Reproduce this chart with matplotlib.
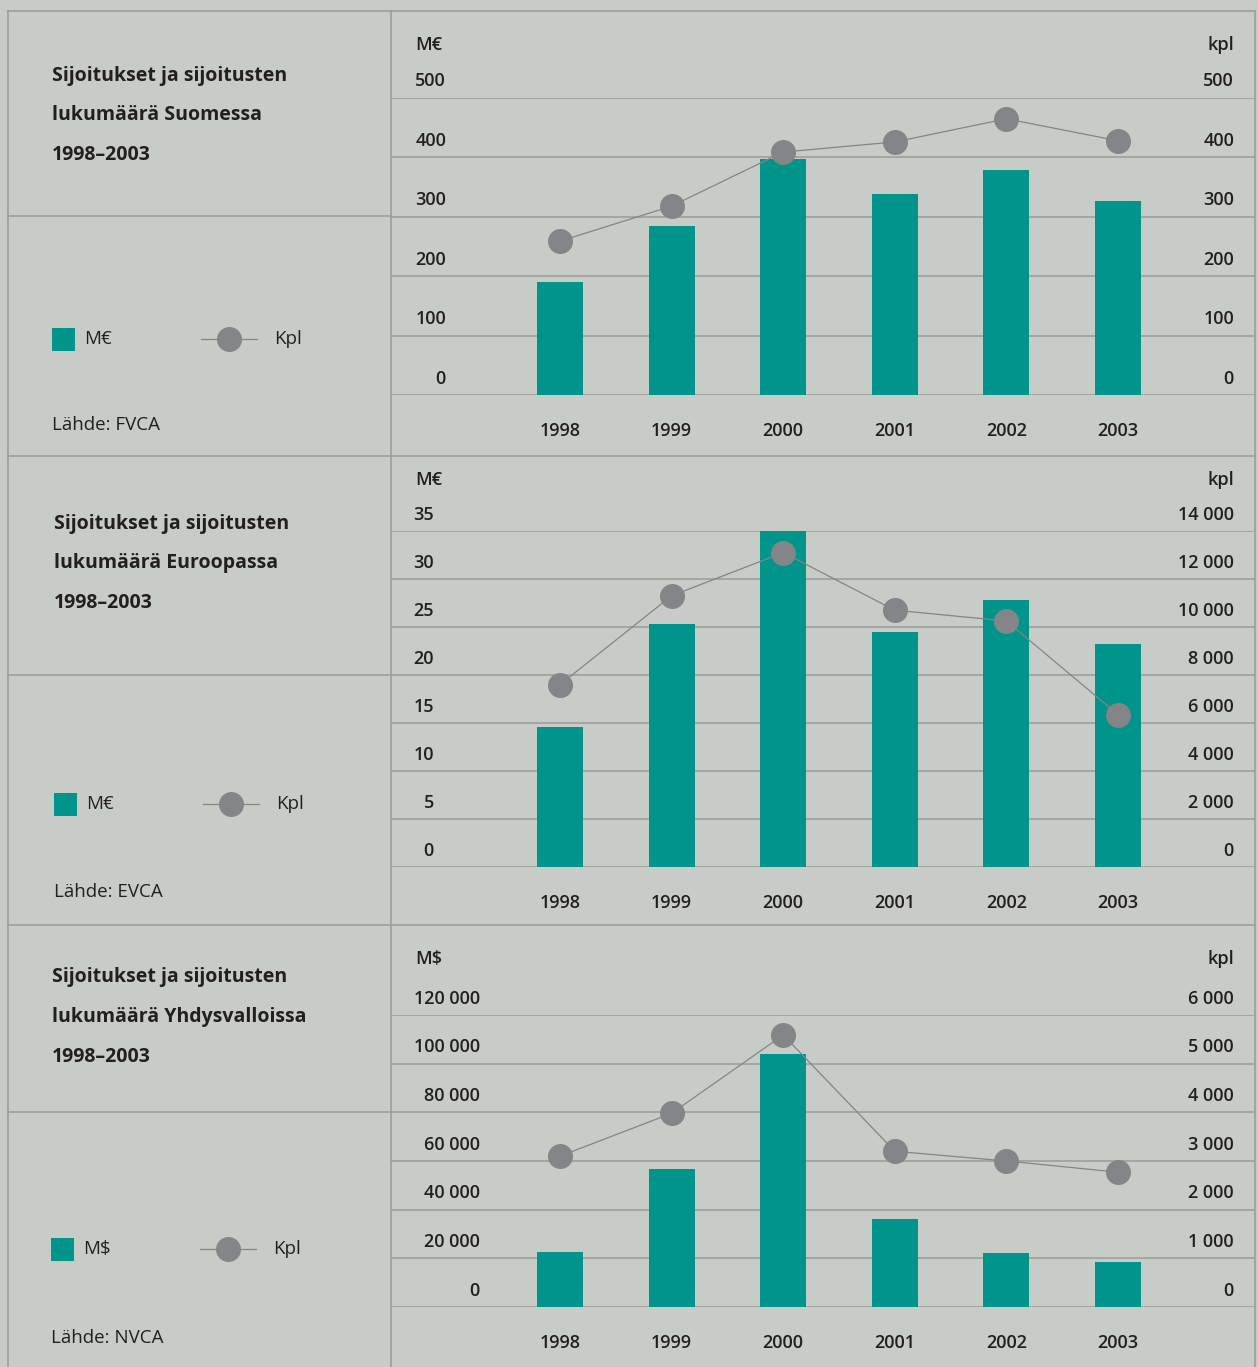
import matplotlib
matplotlib.use("Agg")
import matplotlib.pyplot as plt
from matplotlib.patches import Rectangle
from matplotlib.lines import Line2D
from matplotlib.transforms import blended_transform_factory, offset_copy

plt.rcParams['font.family'] = ['Open Sans', 'DejaVu Sans']

W, H = 1258, 1367
BG = '#c8ccc6'
TEAL = '#00948a'
GREY = '#838589'
RULE = '#999b98'
INK = '#231f20'

years = ['1998', '1999', '2000', '2001', '2002', '2003']

# Suomi (FVCA)
fi_meur = [190, 284, 397, 338, 379, 327]
fi_kpl = [259, 318, 409, 426, 465, 428]
fi_left_ticks = [0, 100, 200, 300, 400, 500]
fi_left_labels = ['0', '100', '200', '300', '400', '500']
fi_right_labels = ['0', '100', '200', '300', '400', '500']

# Eurooppa (EVCA)
eu_meur = [14.6, 25.3, 35.2, 24.5, 27.8, 23.2]
eu_kpl = [7600, 11300, 13100, 10700, 10250, 6350]
eu_left_ticks = [0, 5, 10, 15, 20, 25, 30, 35]
eu_left_labels = ['0', '5', '10', '15', '20', '25', '30', '35']
eu_right_labels = ['0', '2 000', '4 000', '6 000', '8 000', '10 000', '12 000', '14 000']

# Yhdysvallat (NVCA)
us_musd = [22600, 56700, 103900, 36100, 22200, 18500]
us_kpl = [3100, 3980, 5590, 3200, 3000, 2770]
us_left_ticks = [0, 20000, 40000, 60000, 80000, 100000, 120000]
us_left_labels = ['0', '20 000', '40 000', '60 000', '80 000', '100 000', '120 000']
us_right_labels = ['0', '1 000', '2 000', '3 000', '4 000', '5 000', '6 000']

panels = [
    dict(bars=fi_meur, line=fi_kpl, ticks=fi_left_ticks, llab=fi_left_labels,
         rlab=fi_right_labels, ymax=500, kmax=500, y0=395, ytop=98, lx=446,
         unit='M€', unit_y=45,
         title=['Sijoitukset ja sijoitusten', 'lukumäärä Suomessa', '1998–2003'],
         tx=52, ty=[76, 115, 155], leg_y=339, leg_x=52, src='Lähde: FVCA', src_y=425),
    dict(bars=eu_meur, line=eu_kpl, ticks=eu_left_ticks, llab=eu_left_labels,
         rlab=eu_right_labels, ymax=35, kmax=14000, y0=867, ytop=531, lx=434,
         unit='M€', unit_y=480,
         title=['Sijoitukset ja sijoitusten', 'lukumäärä Euroopassa', '1998–2003'],
         tx=54, ty=[524, 563, 603], leg_y=804, leg_x=54, src='Lähde: EVCA', src_y=892),
    dict(bars=us_musd, line=us_kpl, ticks=us_left_ticks, llab=us_left_labels,
         rlab=us_right_labels, ymax=120000, kmax=6000, y0=1307, ytop=1015, lx=480,
         unit='M$', unit_y=959,
         title=['Sijoitukset ja sijoitusten', 'lukumäärä Yhdysvalloissa', '1998–2003'],
         tx=52, ty=[977, 1017, 1057], leg_y=1249, leg_x=51, src='Lähde: NVCA', src_y=1338),
]

fig = plt.figure(figsize=(W / 100, H / 100), dpi=100)
fig.patch.set_facecolor(BG)

# overlay axes in pixel coordinates for the table frame and left-column texts
ov = fig.add_axes([0, 0, 1, 1])
ov.set_xlim(0, W)
ov.set_ylim(H, 0)
ov.axis('off')
ov.set_zorder(5)
ov.patch.set_alpha(0)

lw_rule = 1.1
for x in [8, 391, 1255]:
    ov.plot([x, x], [11, H], color=RULE, lw=lw_rule)
for y in [11, 456, 925]:
    ov.plot([8, 1255], [y, y], color=RULE, lw=lw_rule)
for y in [216, 675, 1112]:
    ov.plot([8, 391], [y, y], color=RULE, lw=lw_rule)

x0, x1 = 391, 1255
first_center, step = 560, 111.6
xa = -(first_center - x0) / step
xb = xa + (x1 - x0) / step

for p in panels:
    ax = fig.add_axes([x0 / W, 1 - p['y0'] / H, (x1 - x0) / W, (p['y0'] - p['ytop']) / H])
    ax.set_xlim(xa, xb)
    ax.set_ylim(0, p['ymax'])
    ax.axis('off')
    ax2 = ax.twinx()
    ax2.set_ylim(0, p['kmax'])
    ax2.axis('off')

    for t in p['ticks']:
        ax.axhline(t, color=RULE, lw=lw_rule, zorder=1)
    xs = list(range(len(years)))
    ax.bar(xs, p['bars'], width=0.412, color=TEAL, zorder=2)
    ax2.plot(xs, p['line'], color=GREY, lw=0.9, marker='o', markersize=18,
             markerfacecolor=GREY, markeredgewidth=0, zorder=3)

    # tick labels sit above the gridlines
    tr = blended_transform_factory(ov.transData, ax.transData)
    tr_up = offset_copy(tr, fig=fig, y=16.5 * 0.72, units='points')
    for t, lab, rlab in zip(p['ticks'], p['llab'], p['rlab']):
        ax.text(p['lx'], t, lab, transform=tr_up, ha='right', va='center',
                fontsize=13, fontweight='semibold', color=INK)
        ax.text(1234, t, rlab, transform=tr_up, ha='right', va='center',
                fontsize=13, fontweight='semibold', color=INK)

    trx = blended_transform_factory(ax.transData, ov.transData)
    for i, yr in enumerate(years):
        ax.text(i, p['y0'] + 36, yr, transform=trx, ha='center', va='center',
                fontsize=13, fontweight='semibold', color=INK)

    ov.text(415, p['unit_y'], p['unit'], ha='left', va='center', fontsize=13,
            fontweight='semibold', color=INK)
    ov.text(1234, p['unit_y'], 'kpl', ha='right', va='center', fontsize=13,
            fontweight='semibold', color=INK)

    for line, ty in zip(p['title'], p['ty']):
        ov.text(p['tx'], ty, line, ha='left', va='center', fontsize=14,
                fontweight='bold', color=INK)

    lx, ly = p['leg_x'], p['leg_y']
    ov.add_patch(Rectangle((lx, ly - 11.5), 23, 23, facecolor=TEAL, edgecolor='none'))
    ov.text(lx + 32, ly, p['unit'], ha='left', va='center', fontsize=13.5, color=INK)
    ov.add_line(Line2D([lx + 149, lx + 205], [ly, ly], color=GREY, lw=0.9))
    ov.plot([lx + 177], [ly], marker='o', markersize=18, color=GREY, markeredgewidth=0)
    ov.text(lx + 222, ly, 'Kpl', ha='left', va='center', fontsize=13.5, color=INK)

    ov.text(lx, p['src_y'], p['src'], ha='left', va='center', fontsize=13.5, color=INK)

fig.savefig('out.png', dpi=100, facecolor=BG)
